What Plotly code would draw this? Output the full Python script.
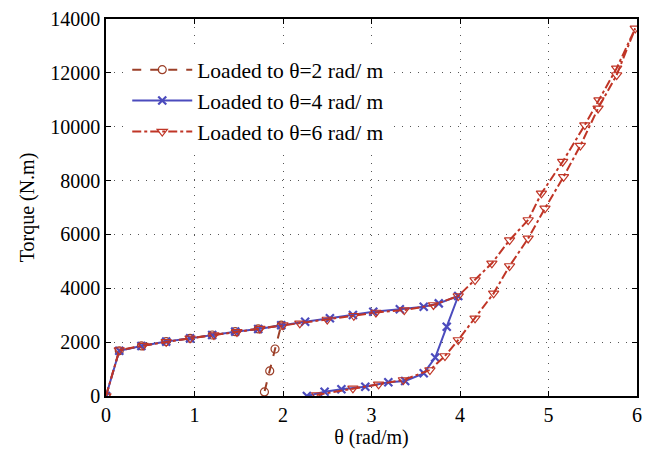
import plotly.graph_objects as go

# Loaded to theta=2 rad/m
x1 = [0, 0.15, 0.40, 0.68, 0.95, 1.20, 1.46, 1.72, 1.98, 1.91, 1.85, 1.79]
y1 = [0, 1680, 1860, 2020, 2140, 2265, 2390, 2490, 2630, 1745, 930, 150]

# Loaded to theta=4 rad/m
x2 = [0, 0.15, 0.40, 0.68, 0.95, 1.20, 1.46, 1.72, 1.98, 2.25, 2.53, 2.79, 3.02, 3.32,
      3.59, 3.76, 3.98, 3.85, 3.72, 3.59, 3.38, 3.19, 2.93, 2.66, 2.47, 2.27]
y2 = [0, 1680, 1860, 2020, 2140, 2265, 2390, 2490, 2630, 2760, 2885, 3008, 3130, 3218,
      3316, 3440, 3713, 2574, 1430, 842, 557, 508, 346, 250, 160, 0]

# Loaded to theta=6 rad/m
x3 = [0, 0.15, 0.42, 0.68, 0.95, 1.22, 1.48, 1.74, 2.00, 2.19, 2.50, 2.80, 3.05, 3.37,
      3.70, 3.98, 4.17, 4.36, 4.56, 4.77, 4.92, 5.16, 5.41, 5.57, 5.77, 5.98,
      5.77, 5.56, 5.36, 5.17, 4.96, 4.77, 4.56, 4.38, 4.17, 3.98, 3.83, 3.66, 3.36,
      3.08, 2.79, 2.38]
y3 = [0, 1700, 1870, 2010, 2140, 2260, 2380, 2500, 2630, 2700, 2840, 2980, 3100, 3190,
      3380, 3713, 4307, 4927, 5790, 6535, 7525, 8700, 10060, 10990, 12170, 13650,
      11920, 10680, 9300, 8140, 6970, 5850, 4827, 3813, 2885, 2080, 1485, 965, 594,
      434, 285, 37]

names = ["Loaded to \u03b8=2 rad/ m", "Loaded to \u03b8=4 rad/ m", "Loaded to \u03b8=6 rad/ m"]
x_ticks = [0, 1, 2, 3, 4, 5, 6]
y_ticks = [0, 2000, 4000, 6000, 8000, 10000, 12000, 14000]

c1 = "#9c3f28"
c2 = "#4b4bbd"
c3 = "#c03526"

fig = go.Figure()
fig.add_trace(go.Scatter(x=x1, y=y1, name=names[0], mode="lines+markers",
                         line=dict(color=c1, width=2, dash="dash"),
                         marker=dict(symbol="circle-open", size=8, color=c1, line=dict(width=1.2))))
fig.add_trace(go.Scatter(x=x2, y=y2, name=names[1], mode="lines+markers",
                         line=dict(color=c2, width=2),
                         marker=dict(symbol="x-thin-open", size=8, color=c2, line=dict(width=2.2, color=c2))))
fig.add_trace(go.Scatter(x=x3, y=y3, name=names[2], mode="lines+markers",
                         line=dict(color=c3, width=2, dash="dashdot"),
                         marker=dict(symbol="triangle-down-open", size=9, color=c3, line=dict(width=1.2))))

font = "Liberation Serif"
axis_common = dict(showline=True, linecolor="black", linewidth=1.5, mirror="allticks",
                   ticks="inside", ticklen=5, tickcolor="black", showgrid=True,
                   gridcolor="#555555", griddash="1px,7px", gridwidth=1, zeroline=False,
                   automargin=False,
                   tickfont=dict(family=font, size=20, color="black"))

fig.update_xaxes(range=[0, 6], tickvals=x_ticks, ticktext=[str(v) for v in x_ticks],
                 title=dict(text="\u03b8 (rad/m)", font=dict(family=font, size=20, color="black"), standoff=4),
                 **axis_common)
fig.update_yaxes(range=[0, 14000], tickvals=y_ticks, ticktext=[str(v) for v in y_ticks],
                 title=dict(text="Torque (N.m)", font=dict(family=font, size=20, color="black"), standoff=10),
                 **axis_common)

fig.update_layout(width=656, height=453, margin=dict(l=106, r=19, t=19, b=57),
                  paper_bgcolor="white", plot_bgcolor="white",
                  font=dict(family=font, size=20, color="black"),
                  legend=dict(x=0.04, y=0.92, xanchor="left", yanchor="top",
                              bgcolor="white", borderwidth=0,
                              font=dict(family=font, size=21.5, color="black"),
                              itemwidth=60, tracegroupgap=0),
                  showlegend=True)

fig.write_html("out.html")
